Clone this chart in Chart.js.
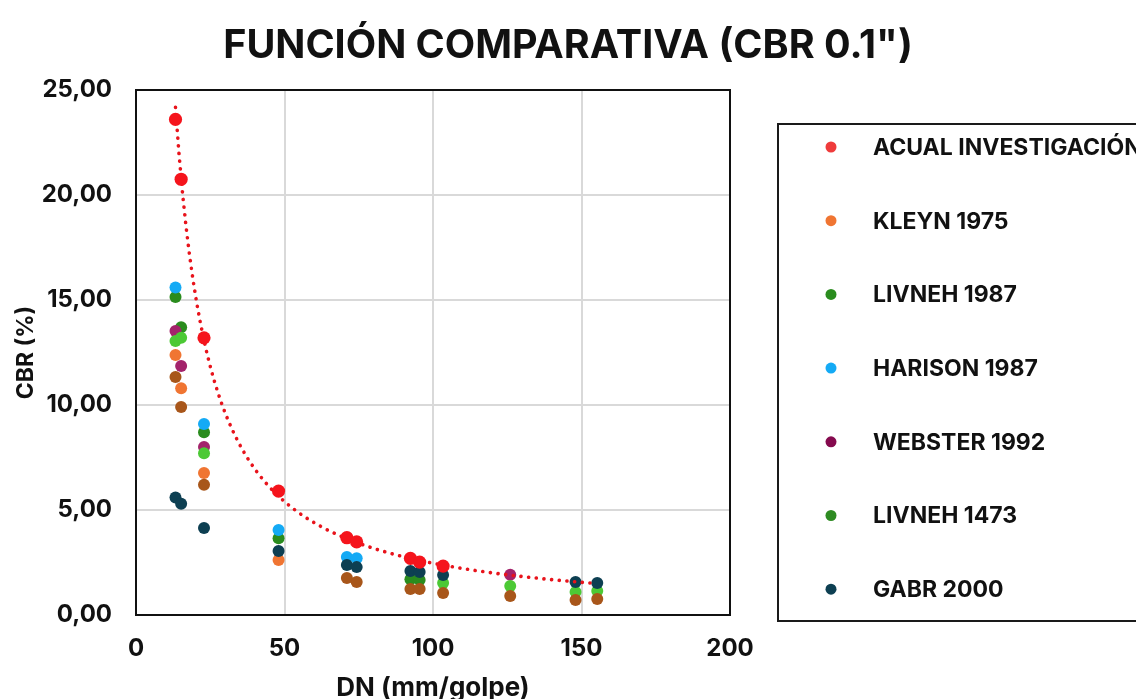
<!DOCTYPE html>
<html>
<head>
<meta charset="utf-8">
<script src="https://cdn.jsdelivr.net/npm/chart.js@4.4.0/dist/chart.umd.min.js"></script>
<style>
  html, body { margin: 0; padding: 0; background: #fff; }
  #wrap { width: 1136px; height: 699px; }
</style>
</head>
<body>
<div id="wrap"><canvas id="cbrChart"></canvas></div>
<script>
(function () {
  "use strict";

  // DN values (mm/golpe) shared by all series
  const dn = [13.3, 15.2, 22.9, 48, 71, 74.3, 92.4, 95.5, 103.4, 126, 148, 155.3];

  // CBR (%) read per series, null = no point
  const acual     = [23.6, 20.75, 13.2, 5.9, 3.68, 3.48, 2.7, 2.52, 2.33, null, null, null];
  const kleyn     = [12.38, 10.8, 6.76, 2.62, null, null, null, null, null, null, null, null];
  const livneh87  = [15.14, 13.7, 8.7, 3.65, null, null, 1.7, 1.67, null, null, null, null];
  const harison   = [15.6, null, 9.1, 4.05, 2.76, 2.7, null, null, null, null, null, null];
  const webster   = [13.52, 11.86, 8.0, null, null, null, null, null, null, 1.92, null, null];
  const livneh73  = [13.05, 13.2, 7.7, null, null, null, null, null, 1.52, 1.38, 1.1, 1.14];
  const gabr      = [5.6, 5.3, 4.14, 3.05, 2.38, 2.28, 2.1, 2.05, 1.9, null, 1.57, 1.52];
  const serie8    = [11.33, 9.9, 6.2, null, 1.76, 1.57, 1.24, 1.24, 1.05, 0.9, 0.71, 0.76];

  const yTicks = [0, 5, 10, 15, 20, 25];
  const xTicks = [0, 50, 100, 150, 200];

  const FONT = "Inter, 'Liberation Sans', sans-serif";

  // build {x,y} points, dropping gaps
  function pts(vals) {
    const out = [];
    vals.forEach(function (v, i) {
      if (v !== null) out.push({ x: dn[i], y: v });
    });
    return out;
  }

  // power trendline (y = a*x^b) fitted on the research series, like Excel
  function powerTrend(vals, xEnd) {
    const p = pts(vals);
    const n = p.length;
    let sx = 0, sy = 0;
    p.forEach(function (q) { sx += Math.log(q.x); sy += Math.log(q.y); });
    const mx = sx / n, my = sy / n;
    let num = 0, den = 0;
    p.forEach(function (q) {
      const dx = Math.log(q.x) - mx;
      num += dx * (Math.log(q.y) - my);
      den += dx * dx;
    });
    const b = num / den;
    const a = Math.exp(my - b * mx);
    const x0 = p[0].x;
    const out = [];
    const steps = 120;
    for (let i = 0; i <= steps; i++) {
      const x = x0 + (xEnd - x0) * i / steps;
      out.push({ x: x, y: a * Math.pow(x, b) });
    }
    return out;
  }

  function series(label, vals, color, order, inLegend) {
    return {
      label: label,
      data: pts(vals),
      backgroundColor: color,
      borderColor: color,
      pointRadius: 6,
      pointHoverRadius: 6,
      borderWidth: 0,
      order: order,
      inLegend: inLegend
    };
  }

  const datasets = [
    {
      label: 'ACUAL INVESTIGACIÓN',
      data: pts(acual),
      backgroundColor: '#f5141c',
      borderColor: '#f5141c',
      pointRadius: 6.6,
      borderWidth: 0,
      order: 0,
      inLegend: true,
      legendColor: '#ef3b3b'
    },
    {
      type: 'line',
      label: 'Tendencia',
      data: powerTrend(acual, Math.max.apply(null, dn)),
      borderColor: '#e8131b',
      borderWidth: 3.6,
      borderDash: [0.1, 7.6],
      borderCapStyle: 'round',
      pointRadius: 0,
      fill: false,
      tension: 0,
      order: 1,
      inLegend: false
    },
    series('KLEYN 1975', kleyn, '#f07532', 9, true),
    series('LIVNEH 1987', livneh87, '#2a8c1e', 8, true),
    series('HARISON 1987', harison, '#14aaf5', 7, true),
    series('WEBSTER 1992', webster, '#a3236b', 6, true),
    series('LIVNEH 1473', livneh73, '#4cc935', 5, true),
    series('GABR 2000', gabr, '#0d3f52', 4, true),
    series('SERIE 8', serie8, '#a8561a', 3, false)
  ];
  datasets[5].legendColor = '#850a4e';
  datasets[6].legendColor = '#2e8b22';

  // legend drawn as a framed box to the right of the plot
  const boxLegend = {
    id: 'boxLegend',
    afterDraw: function (chart) {
      const ctx = chart.ctx;
      const area = chart.chartArea;
      const left = area.right + 48;
      const top = area.top + 34;
      ctx.save();
      ctx.lineWidth = 2;
      ctx.strokeStyle = '#1a1a1a';
      ctx.strokeRect(left, top, 420, 497);
      const items = chart.data.datasets.filter(function (d) { return d.inLegend; });
      items.forEach(function (d, i) {
        const y = top + 23 + i * 73.7;
        ctx.beginPath();
        ctx.arc(left + 53, y, 5.5, 0, Math.PI * 2);
        ctx.fillStyle = d.legendColor || d.backgroundColor;
        ctx.fill();
        ctx.fillStyle = '#111';
        ctx.font = 'bold 23px ' + FONT;
        ctx.textBaseline = 'middle';
        ctx.fillText(d.label, left + 95, y + 1);
      });
      ctx.restore();
    }
  };

  // black frame round the plot area
  const plotFrame = {
    id: 'plotFrame',
    afterDatasetsDraw: function (chart) {
      const a = chart.chartArea;
      const ctx = chart.ctx;
      ctx.save();
      ctx.lineWidth = 2;
      ctx.strokeStyle = '#111';
      ctx.strokeRect(a.left, a.top, a.right - a.left, a.bottom - a.top);
      ctx.restore();
    }
  };

  const ctx = document.getElementById('cbrChart').getContext('2d');
  new Chart(ctx, {
    type: 'scatter',
    data: { datasets: datasets },
    plugins: [plotFrame, boxLegend],
    options: {
      responsive: true,
      maintainAspectRatio: false,
      animation: false,
      layout: { padding: 0 },
      plugins: {
        legend: { display: false },
        tooltip: { enabled: false },
        title: {
          display: true,
          text: 'FUNCIÓN COMPARATIVA (CBR 0.1")',
          color: '#111',
          font: { family: FONT, size: 39.5, weight: 'bold' },
          padding: { top: 22, bottom: 20.6 }
        }
      },
      scales: {
        x: {
          type: 'linear',
          min: xTicks[0],
          max: xTicks[xTicks.length - 1],
          afterBuildTicks: function (s) { s.ticks = xTicks.map(function (v) { return { value: v }; }); },
          afterFit: function (s) { s.height = 84; },
          grid: { color: '#d9d9d9', lineWidth: 2, drawTicks: false },
          border: { display: false },
          ticks: { color: '#111', padding: 19, maxRotation: 0, font: { family: FONT, size: 24, weight: 'bold' } },
          title: {
            display: true,
            text: 'DN (mm/golpe)',
            color: '#111',
            font: { family: FONT, size: 26, weight: 'bold', lineHeight: 1 },
            padding: { top: 0, bottom: -2 }
          }
        },
        y: {
          type: 'linear',
          min: yTicks[0],
          max: yTicks[yTicks.length - 1],
          afterBuildTicks: function (s) { s.ticks = yTicks.map(function (v) { return { value: v }; }); },
          afterFit: function (s) { s.width = 136; },
          grid: { color: '#d9d9d9', lineWidth: 2, drawTicks: false },
          border: { display: false },
          ticks: {
            color: '#111',
            padding: 24,
            font: { family: FONT, size: 24, weight: 'bold' },
            callback: function (v) { return v.toFixed(2).replace('.', ','); }
          },
          title: {
            display: true,
            text: 'CBR (%)',
            color: '#111',
            font: { family: FONT, size: 23, weight: 'bold', lineHeight: 1 },
            padding: { top: 15, bottom: 15 }
          }
        },
        // empty right-hand axis that reserves the legend column
        side: {
          type: 'linear',
          position: 'right',
          display: true,
          grid: { display: false },
          border: { display: false },
          ticks: { display: false },
          afterFit: function (s) { s.width = 406; }
        }
      }
    }
  });
})();
</script>
</body>
</html>
